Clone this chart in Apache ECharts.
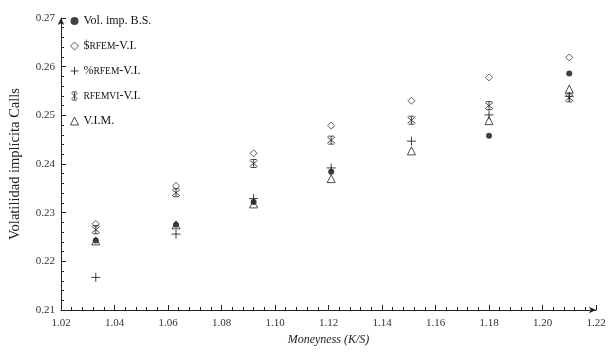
<!DOCTYPE html>
<html><head><meta charset="utf-8">
<script src="https://cdn.jsdelivr.net/npm/echarts@6/dist/echarts.min.js"></script>
<style>html,body{margin:0;padding:0;background:#fff}#c{width:611px;height:355px}</style>
</head><body><div id="c"></div>
<script>
const moneyness = [1.033, 1.063, 1.092, 1.121, 1.151, 1.180, 1.210];
const volBS   = [0.2243, 0.2275, 0.2322, 0.2384, null,   0.2458, 0.2586];
const rfemD   = [0.2277, 0.2355, 0.2422, 0.2479, 0.2530, 0.2578, 0.2619];
const rfemP   = [0.2167, 0.2256, 0.2329, 0.2392, 0.2447, 0.2501, 0.2539];
const rfemvi  = [0.2265, 0.2341, 0.2401, 0.2449, 0.2490, 0.2520, 0.2536];
const vim     = [0.2242, 0.2275, 0.2318, 0.2370, 0.2427, 0.2489, 0.2554];
const seriesNames = ['Vol. imp. B.S.', '$RFEM-V.I.', '%RFEM-V.I.', 'RFEMVI-V.I.', 'V.I.M.'];
const legendLabels = {
  'Vol. imp. B.S.': '{n|Vol. imp. B.S.}',
  '$RFEM-V.I.': '{n|$}{s|RFEM}{n|-V.I.}',
  '%RFEM-V.I.': '{n|%}{s|RFEM}{n|-V.I.}',
  'RFEMVI-V.I.': '{s|RFEMVI}{n|-V.I.}',
  'V.I.M.': '{n|V.I.M.}'
};
const FONT = '"Liberation Serif", "DejaVu Serif", serif';
const pair = arr => moneyness.map((x, i) => [x, arr[i]]);
const chart = echarts.init(document.getElementById('c'), null, {renderer: 'canvas'});
const stroke = c => ({color: 'transparent', borderColor: c, borderWidth: 1});
const SYM_PLUS = 'path://M0,5L10,5M5,0L5,10';
const SYM_STAR = 'path://M1,1L9,9M9,1L1,9M5,0L5,10M2,0L8,0M2,10L8,10';
chart.setOption({
  animation: false,
  backgroundColor: '#fff',
  grid: {left: 56, right: 15, top: 18, bottom: 45},
  legend: {
    orient: 'vertical', left: 70, top: 14, padding: 0, itemWidth: 8, itemHeight: 8, itemGap: 11,
    data: [
      {name: seriesNames[0], icon: 'circle', itemStyle: {color: '#111', borderWidth: 0}},
      {name: seriesNames[1], icon: 'diamond', itemStyle: {color: 'transparent', borderColor: '#333', borderWidth: 1}},
      {name: seriesNames[2], icon: SYM_PLUS, itemStyle: {color: 'transparent', borderColor: '#111', borderWidth: 1}},
      {name: seriesNames[3], icon: SYM_STAR, itemStyle: {color: 'transparent', borderColor: '#222', borderWidth: 1}},
      {name: seriesNames[4], icon: 'triangle', itemStyle: {color: 'transparent', borderColor: '#222', borderWidth: 1}}
    ],
    formatter: n => legendLabels[n],
    textStyle: {fontFamily: FONT, color: '#111', lineHeight: 14,
      rich: {n: {fontFamily: FONT, fontSize: 12, color: '#111', lineHeight: 14},
             s: {fontFamily: FONT, fontSize: 9.5, color: '#111', lineHeight: 14}}}
  },
  xAxis: {
    type: 'value', min: 1.02, max: 1.22, interval: 0.02,
    name: 'Moneyness (K/S)', nameLocation: 'middle', nameGap: 23,
    nameTextStyle: {fontFamily: FONT, fontSize: 12, fontStyle: 'italic', color: '#222'},
    axisLine: {show: true, lineStyle: {color: '#222', width: 1}, symbol: ['none', 'arrow'], symbolSize: [5, 7]},
    axisTick: {show: true, inside: true, length: 5, lineStyle: {color: '#222'}},
    minorTick: {show: true, splitNumber: 5, length: 3, lineStyle: {color: '#222'}},
    splitLine: {show: false},
    axisLabel: {fontFamily: FONT, fontSize: 11, color: '#333', margin: 8, formatter: v => v.toFixed(2)}
  },
  yAxis: {
    type: 'value', min: 0.21, max: 0.27, interval: 0.01,
    name: 'Volatilidad implícita Calls', nameLocation: 'middle', nameGap: 38,
    nameTextStyle: {fontFamily: FONT, fontSize: 14.5, color: '#222'},
    axisLine: {show: true, lineStyle: {color: '#222', width: 1}, symbol: ['none', 'arrow'], symbolSize: [5, 7]},
    axisTick: {show: true, inside: true, length: 5, lineStyle: {color: '#222'}},
    minorTick: {show: true, splitNumber: 5, length: 3, lineStyle: {color: '#222'}},
    splitLine: {show: false},
    axisLabel: {fontFamily: FONT, fontSize: 11, color: '#333', margin: 6, formatter: v => v.toFixed(2)}
  },
  series: [
    {name: seriesNames[0], type: 'scatter', data: pair(volBS), symbol: 'circle', symbolSize: 6,
     itemStyle: {color: '#111'}},
    {name: seriesNames[1], type: 'scatter', data: pair(rfemD), symbol: 'diamond', symbolSize: 7,
     itemStyle: stroke('#333')},
    {name: seriesNames[2], type: 'scatter', data: pair(rfemP), symbol: SYM_PLUS, symbolSize: 9,
     itemStyle: stroke('#111')},
    {name: seriesNames[3], type: 'scatter', data: pair(rfemvi), symbol: SYM_STAR, symbolSize: 8,
     itemStyle: stroke('#222')},
    {name: seriesNames[4], type: 'scatter', data: pair(vim), symbol: 'triangle', symbolSize: 8,
     itemStyle: stroke('#222')}
  ]
});
</script></body></html>
